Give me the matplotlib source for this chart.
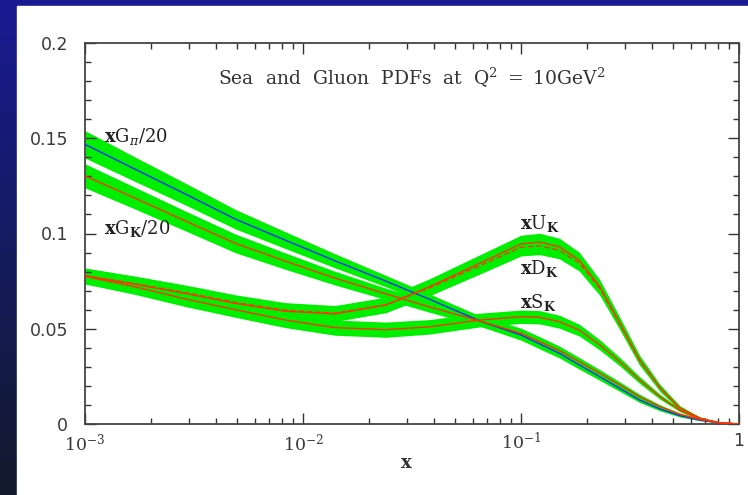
import numpy as np
import matplotlib
matplotlib.use('Agg')
import matplotlib.pyplot as plt
from matplotlib.colors import LinearSegmentedColormap
from matplotlib.patches import Rectangle
from matplotlib.ticker import LogLocator, MultipleLocator, FixedFormatter, FixedLocator

plt.rcParams['mathtext.fontset'] = 'dejavuserif'

# valores
x_vals = [0.001, 0.0017, 0.0029, 0.0049, 0.0083, 0.014, 0.024, 0.038, 0.065, 0.1,
          0.122, 0.15, 0.185, 0.23, 0.284, 0.35, 0.434, 0.535, 0.66, 0.81, 1.0]

g_pi = [0.1468, 0.1337, 0.1206, 0.1075, 0.0965, 0.0857, 0.075, 0.0655, 0.054, 0.0467,
        0.042, 0.0371, 0.031, 0.0248, 0.0187, 0.0126, 0.0079, 0.0044, 0.0021, 0.0006, 0.0]
g_k = [0.1303, 0.1185, 0.1065, 0.0948, 0.0855, 0.0766, 0.0683, 0.0615, 0.054, 0.0476,
       0.0432, 0.0385, 0.0327, 0.0266, 0.0205, 0.0143, 0.0091, 0.0051, 0.0025, 0.0007, 0.0]
u_k = [0.0777, 0.0733, 0.0685, 0.0633, 0.0592, 0.0578, 0.0625, 0.072, 0.0845, 0.0945,
       0.0955, 0.093, 0.086, 0.072, 0.053, 0.0336, 0.019, 0.0084, 0.0031, 0.0007, 0.0]
d_k = [0.0779, 0.0736, 0.0689, 0.0638, 0.0597, 0.0582, 0.0625, 0.0715, 0.0832, 0.0928,
       0.0935, 0.0912, 0.0845, 0.0712, 0.0525, 0.0333, 0.0189, 0.0084, 0.0031, 0.0007, 0.0]
s_k = [0.0775, 0.072, 0.0656, 0.060, 0.0546, 0.0506, 0.0495, 0.051, 0.0546, 0.0563,
       0.056, 0.0537, 0.0493, 0.0415, 0.0327, 0.0231, 0.0143, 0.0073, 0.0026, 0.0007, 0.0]

# semiancho de las bandas de error
err_pi = [0.0072, 0.0064, 0.0057, 0.0051, 0.0044, 0.0037, 0.003, 0.0028, 0.0027, 0.0027,
          0.0026, 0.0024, 0.0022, 0.0019, 0.0016, 0.0013, 0.001, 0.0007, 0.0004, 0.0001, 0.0]
err_k = [0.0063, 0.0057, 0.0052, 0.0049, 0.0043, 0.0036, 0.003, 0.0028, 0.0027, 0.0027,
         0.0026, 0.0024, 0.0022, 0.0019, 0.0016, 0.0013, 0.001, 0.0007, 0.0004, 0.0001, 0.0]
err_sea = [0.004, 0.004, 0.004, 0.004, 0.004, 0.004, 0.004, 0.0042, 0.0044, 0.0046,
           0.0046, 0.0045, 0.0042, 0.0037, 0.003, 0.0024, 0.0017, 0.0011, 0.0006, 0.0002, 0.0]
err_s = [0.004, 0.004, 0.004, 0.004, 0.004, 0.004, 0.004, 0.0038, 0.0036, 0.0035,
         0.0035, 0.0034, 0.0031, 0.0027, 0.0022, 0.0018, 0.0013, 0.0008, 0.0004, 0.0001, 0.0]

x_ticks = [0.001, 0.01, 0.1, 1.0]
x_tick_labels = [r'$10^{-3}$', r'$10^{-2}$', r'$10^{-1}$', '1']
y_ticks = [0, 0.05, 0.1, 0.15, 0.2]
y_tick_labels = ['0', '0.05', '0.1', '0.15', '0.2']

W, H = 748, 495
fig = plt.figure(figsize=(W / 100, H / 100), dpi=100)

# fondo degradado azul
bg = fig.add_axes([0, 0, 1, 1])
cmap = LinearSegmentedColormap.from_list('fondo', ['#1a1a92', '#121a2c'])
bg.imshow(np.linspace(0, 1, 256).reshape(-1, 1), aspect='auto', cmap=cmap,
          extent=[0, 1, 0, 1])
bg.add_patch(Rectangle((17 / W, 0), 1, (H - 6) / H, color='white'))
bg.set_xlim(0, 1)
bg.set_ylim(0, 1)
bg.axis('off')

ax = fig.add_axes([85 / W, (H - 424) / H, (739 - 85) / W, (424 - 43) / H])
ax.set_facecolor('none')

x = np.array(x_vals)
green = '#00ee00'
red = '#ff3300'

def banda(y, e):
    y = np.array(y)
    e = np.array(e)
    ax.fill_between(x, y - e, y + e, color=green, lw=0, zorder=1)

banda(g_pi, err_pi)
banda(g_k, err_k)
banda(u_k, err_sea)
banda(d_k, err_sea)
banda(s_k, err_s)

ax.plot(x, g_pi, color='#1030ff', lw=1.0, zorder=3)
ax.plot(x, g_k, color=red, lw=1.0, zorder=3)
ax.plot(x, u_k, color=red, lw=1.0, zorder=3)
ax.plot(x, d_k, color=red, lw=1.0, ls=(0, (4, 2)), zorder=3)
ax.plot(x, s_k, color=red, lw=1.0, zorder=3)

ax.set_xscale('log')
ax.set_xlim(1e-3, 1)
ax.set_ylim(0, 0.2)

ax.xaxis.set_major_locator(FixedLocator(x_ticks))
ax.xaxis.set_major_formatter(FixedFormatter(x_tick_labels))
ax.xaxis.set_minor_locator(LogLocator(base=10, subs=np.arange(2, 10)))
ax.xaxis.set_minor_formatter(FixedFormatter([]))
ax.yaxis.set_major_locator(FixedLocator(y_ticks))
ax.yaxis.set_major_formatter(FixedFormatter(y_tick_labels))
ax.yaxis.set_minor_locator(MultipleLocator(0.01))

ax.tick_params(which='both', direction='in', top=True, right=True, width=1.0,
               color='#333333', labelsize=12.5, labelcolor='#3a3a3a')
ax.tick_params(which='major', length=8)
ax.tick_params(axis='y', which='major', pad=12)
ax.tick_params(axis='x', which='major', pad=6)
ax.tick_params(which='minor', length=4)
for s in ax.spines.values():
    s.set_linewidth(1.3)
    s.set_color('#444444')

for lab in ax.get_xticklabels() + ax.get_yticklabels():
    lab.set_family('DejaVu Sans')

ax.set_xlabel(r'$\mathbf{x}$', fontsize=13, color='#333333')
ax.xaxis.set_label_coords(0.491, -0.08)

ax.text(0.5, 0.911, r'Sea  and  Gluon  PDFs  at  $\mathrm{Q}^{2}\ =\ 10\mathrm{GeV}^{2}$',
        transform=ax.transAxes, fontsize=13.5, family='DejaVu Serif', color='#333333',
        va='center', ha='center', zorder=5)

lab_kw = dict(fontsize=13, color='#222222', va='center', zorder=5)
ax.text(1.22e-3, 0.151, r'$\mathbf{x}\mathrm{G}_{\pi}/20$', **lab_kw)
ax.text(1.22e-3, 0.1025, r'$\mathbf{x}\mathrm{G}_{\mathbf{K}}/20$', **lab_kw)
ax.text(0.099, 0.1055, r'$\mathbf{x}\mathrm{U}_{\mathbf{K}}$', **lab_kw)
ax.text(0.099, 0.0815, r'$\mathbf{x}\mathrm{D}_{\mathbf{K}}$', **lab_kw)
ax.text(0.099, 0.0640, r'$\mathbf{x}\mathrm{S}_{\mathbf{K}}$', **lab_kw)

fig.savefig('out.png', dpi=100)
